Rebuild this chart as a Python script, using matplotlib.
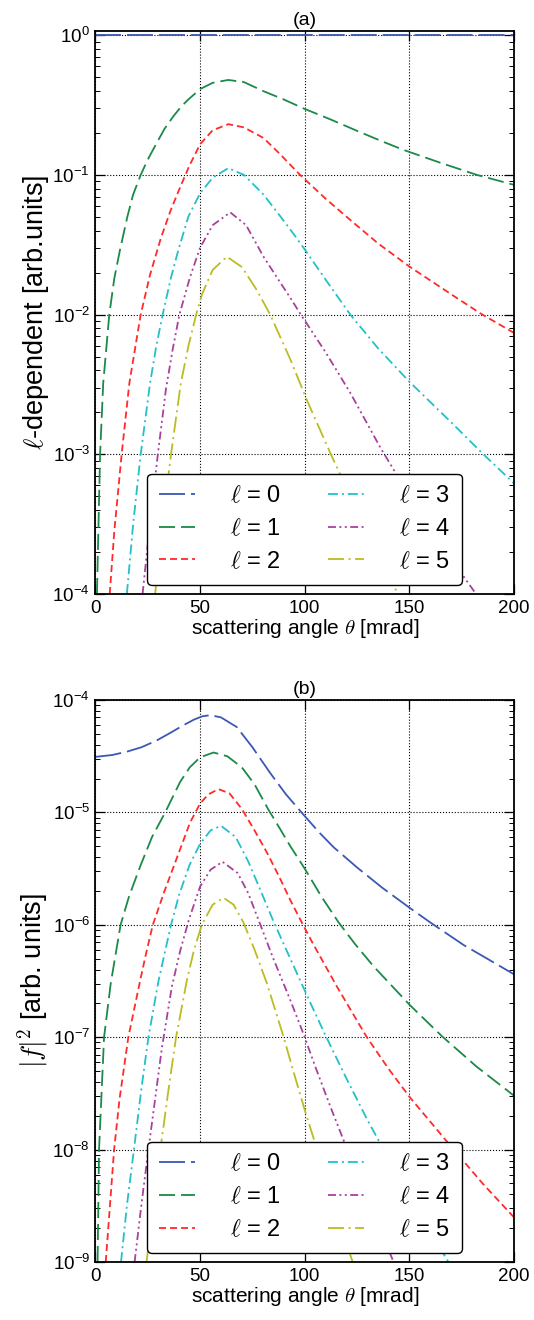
import matplotlib
matplotlib.use("Agg")
import matplotlib.pyplot as plt
from matplotlib.ticker import NullFormatter

plt.rcParams['font.family'] = ['Liberation Sans', 'DejaVu Sans']
plt.rcParams['mathtext.fontset'] = 'cm'

# ---- data ----
labels = [r'$\ell$ = 0', r'$\ell$ = 1', r'$\ell$ = 2', r'$\ell$ = 3', r'$\ell$ = 4', r'$\ell$ = 5']
xticks = [0, 50, 100, 150, 200]

# panel (a): l-dependent factor
a_x0 = [0, 200]
a_y0 = [1.0, 1.0]
a_x1 = [0.7, 2.2, 3.7, 6.6, 9, 11.7, 15.2, 18, 21.6, 25, 29.3, 33, 37.2, 41, 44, 50, 56, 63.5,
        71, 80.3, 90, 100, 112, 125, 137, 147.3, 165, 182.4, 200]
a_y1 = [1e-4, 1e-3, 3.24e-3, 0.01, 0.0182, 0.029, 0.050, 0.0724, 0.10, 0.129, 0.17, 0.214, 0.263,
        0.309, 0.343, 0.412, 0.457, 0.479, 0.462, 0.398, 0.347, 0.297, 0.251, 0.207, 0.174,
        0.151, 0.122, 0.10, 0.085]
a_x2 = [6.8, 9, 12.5, 16.2, 21.6, 26, 31.3, 36, 40.4, 45, 50, 56, 63.5, 71, 80.3, 87.8, 97.8,
        110, 121.8, 135, 150, 170.6, 184, 200]
a_y2 = [1e-4, 2.82e-4, 1e-3, 3.24e-3, 0.01, 0.0191, 0.0355, 0.0562, 0.0813, 0.1175, 0.166,
        0.209, 0.231, 0.219, 0.184, 0.143, 0.10, 0.0676, 0.0476, 0.0324, 0.0221, 0.0138,
        0.0102, 0.0074]
a_x3 = [15, 18, 21.6, 26.1, 29, 32.1, 36, 39.6, 44.4, 50, 56, 63.5, 71, 80.3, 87, 93.1, 99.4,
        110, 121.8, 135, 150, 170.6, 184.8, 200]
a_y3 = [1e-4, 3.16e-4, 1e-3, 3.24e-3, 5.9e-3, 0.01, 0.0182, 0.029, 0.0504, 0.074, 0.0955, 0.112,
        0.10, 0.0724, 0.0537, 0.0407, 0.0302, 0.0178, 0.01, 0.00575, 0.00331, 0.00166,
        0.00102, 6.2e-4]
a_x4 = [22.5, 26, 29.8, 33.7, 37, 40.1, 45.2, 50, 56, 64.4, 72, 80.3, 87, 93.1, 97.8, 110,
        121.8, 136.1, 155, 175.2, 184.3]
a_y4 = [1e-4, 3.16e-4, 1e-3, 2.95e-3, 5.75e-3, 0.01, 0.0186, 0.0302, 0.0437, 0.054, 0.0437,
        0.026, 0.0182, 0.0132, 0.0102, 0.00537, 0.00275, 0.00112, 3.8e-4, 1.38e-4, 8.9e-5]
a_x5 = [28.5, 32, 36.1, 40.8, 44.5, 48.1, 51, 56, 62.8, 70, 77.1, 83.5, 93.1, 101, 112.5, 128,
        144.5]
a_y5 = [1e-4, 3.16e-4, 1e-3, 3.24e-3, 6.03e-3, 0.01, 0.0141, 0.0209, 0.026, 0.0219, 0.015,
        0.01, 0.00479, 0.00245, 0.001, 3.16e-4, 1e-4]

# panel (b): |f|^2
b_x0 = [0, 8, 15, 22, 29.3, 36, 42, 47, 51, 55, 60, 67.5, 75, 83.5, 91, 99.4, 107, 113.8, 125,
        137, 150.5, 160, 176, 188, 200]
b_y0 = [3.12e-5, 3.24e-5, 3.47e-5, 3.8e-5, 4.37e-5, 5.13e-5, 5.96e-5, 6.68e-5, 7.16e-5, 7.33e-5,
        7.0e-5, 5.75e-5, 3.8e-5, 2.24e-5, 1.45e-5, 9.55e-6, 6.61e-6, 4.9e-6, 3.24e-6, 2.14e-6,
        1.4e-6, 1.05e-6, 6.6e-7, 4.9e-7, 3.63e-7]
b_x1 = [1.0, 1.7, 4.1, 7.3, 12, 16, 21.3, 27, 33.3, 37, 40.4, 45, 50, 56.4, 63, 70, 76, 82.5,
        88, 93.1, 100, 108, 116.2, 124, 132.9, 150.5, 165.6, 182, 200]
b_y1 = [1e-9, 1e-8, 1e-7, 3.02e-7, 1e-6, 1.78e-6, 3.29e-6, 6.03e-6, 1e-5, 1.38e-5, 1.86e-5,
        2.51e-5, 3.09e-5, 3.41e-5, 3.16e-5, 2.51e-5, 1.78e-5, 1.07e-5, 7.24e-6, 5.01e-6,
        3.16e-6, 1.78e-6, 1.05e-6, 6.76e-7, 4.27e-7, 1.91e-7, 1.02e-7, 5.5e-8, 3.02e-8]
b_x2 = [4.9, 8.9, 11.5, 15.7, 21.3, 24, 27.4, 33, 38, 42, 45.2, 50, 54, 58.8, 64, 70, 76, 82,
        88, 93.1, 97.8, 104, 115.4, 129.4, 140, 150.5, 171.2, 185, 200]
b_y2 = [1e-9, 1e-8, 2.82e-8, 1e-7, 3.16e-7, 5.37e-7, 1e-6, 2e-6, 3.55e-6, 5.62e-6, 8.13e-6,
        1.2e-5, 1.45e-5, 1.61e-5, 1.48e-5, 1.07e-5, 6.92e-6, 4.37e-6, 2.63e-6, 1.66e-6,
        1.12e-6, 6.76e-7, 2.82e-7, 1.02e-7, 5.25e-8, 2.88e-8, 1e-8, 5e-9, 2.5e-9]
b_x3 = [12.2, 15, 18.7, 22, 25.3, 30.1, 36.1, 40, 44.9, 50, 55, 60, 67, 73.1, 79, 85.1, 93.1,
        102.6, 109.8, 120, 129.8, 150, 172]
b_y3 = [1e-9, 3.16e-9, 1.12e-8, 3.55e-8, 1e-7, 3.16e-7, 1e-6, 1.86e-6, 3.39e-6, 5.25e-6,
        6.92e-6, 7.6e-6, 6.03e-6, 3.63e-6, 2e-6, 1.07e-6, 5e-7, 2.04e-7, 1.05e-7, 4.27e-8,
        1.86e-8, 3.8e-9, 7.9e-10]
b_x4 = [18.7, 22, 25.3, 28.5, 31.7, 36.5, 40.5, 44.7, 50, 55, 60.7, 68, 73, 78.2, 85, 93.1,
        99.4, 105, 112.3, 125, 142]
b_y4 = [1e-9, 3.3e-9, 1e-8, 2.82e-8, 7.94e-8, 2.82e-7, 5.89e-7, 1.12e-6, 2.19e-6, 3.09e-6,
        3.64e-6, 2.88e-6, 1.91e-6, 1.07e-6, 5e-7, 2.14e-7, 1.07e-7, 5.5e-8, 2.4e-8, 6.03e-9,
        1.05e-9]
b_x5 = [24.4, 28, 31, 34.8, 38.5, 43.6, 47, 50.8, 56, 61.2, 66, 70.7, 76, 81.9, 89.6, 95,
        100.2, 106.8, 115, 124.7]
b_y5 = [1e-9, 3.55e-9, 1e-8, 3.31e-8, 1e-7, 3.16e-7, 5.89e-7, 1e-6, 1.51e-6, 1.74e-6, 1.51e-6,
        1.05e-6, 6.03e-7, 3.02e-7, 1.05e-7, 4.68e-8, 2.19e-8, 8.9e-9, 2.82e-9, 7.9e-10]

colors = ['#3a58b4', '#1b8a48', '#ff2a2a', '#22c0c8', '#a8409e', '#bcbc22']
# dash patterns (in units of line width)
dashes = [(14.4, 3.3), (8.9, 3.3), (3.9, 2.2), (5.5, 2.2, 1.1, 2.2),
          (4.4, 1.9, 1.1, 1.9, 1.1, 1.9), (8.9, 2.5, 1.1, 2.5)]

fig = plt.figure(figsize=(5.34, 13.2), dpi=100)
ax_a = fig.add_axes([0.1788, 0.55, 0.7837, 0.4265])
ax_b = fig.add_axes([0.1788, 0.0439, 0.7837, 0.4258])

curves_a = [(a_x0, a_y0), (a_x1, a_y1), (a_x2, a_y2), (a_x3, a_y3), (a_x4, a_y4), (a_x5, a_y5)]
curves_b = [(b_x0, b_y0), (b_x1, b_y1), (b_x2, b_y2), (b_x3, b_y3), (b_x4, b_y4), (b_x5, b_y5)]

for ax, curves, title, ylabel, ylim in [
        (ax_a, curves_a, '(a)', r'$\ell$-dependent [arb.units]', (1e-4, 1.073)),
        (ax_b, curves_b, '(b)', r'$|f|^2$ [arb. units]', (1e-9, 1e-4))]:
    for (x, y), c, d, lab in zip(curves, colors, dashes, labels):
        ax.plot(x, y, color=c, lw=1.3, dashes=d, label=lab)
    ax.set_yscale('log')
    ax.set_xlim(0, 200)
    ax.set_ylim(*ylim)
    ax.set_xticks(xticks)
    ax.yaxis.set_minor_formatter(NullFormatter())
    ax.grid(True, which='major', color='black', linestyle=':', linewidth=0.8)
    ax.tick_params(which='both', direction='in', top=True, right=True, labelsize=13.5, pad=4)
    ax.tick_params(which='major', length=7, width=0.9)
    ax.tick_params(which='minor', length=3.5, width=0.7)
    ax.tick_params(axis='x', which='minor', bottom=False, top=False)
    for s in ax.spines.values():
        s.set_linewidth(1.3)
    ax.set_title(title, fontsize=14, pad=4)
    ax.set_xlabel(r'scattering angle $\theta$ [mrad]', fontsize=15, labelpad=0)
    ax.set_ylabel(ylabel, fontsize=19.5, labelpad=1)
    leg = ax.legend(loc='lower center', ncol=2, fontsize=17, handlelength=1.5,
                    handletextpad=1.5, columnspacing=2.0, labelspacing=0.45,
                    borderpad=0.5, borderaxespad=0.4, fancybox=True, framealpha=1)
    leg.get_frame().set_edgecolor('black')
    leg.get_frame().set_linewidth(1.0)

fig.savefig('out.png', dpi=100)
